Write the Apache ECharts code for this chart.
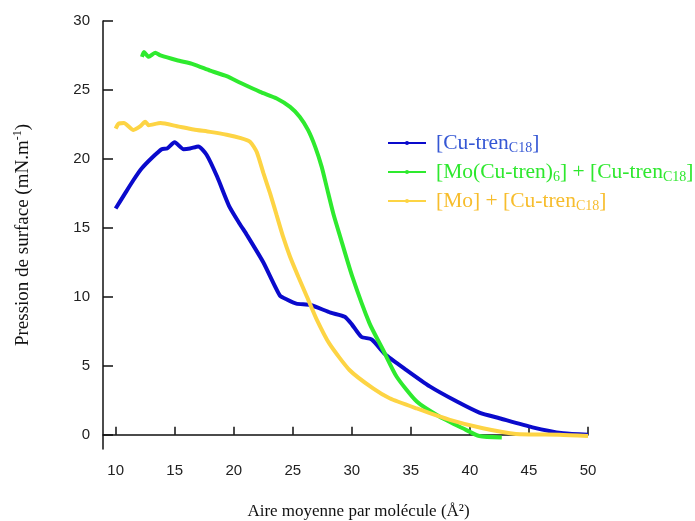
<!DOCTYPE html>
<html>
<head>
<meta charset="utf-8">
<script src="https://cdn.jsdelivr.net/npm/echarts@6/dist/echarts.min.js"></script>
<style>
  html, body { margin: 0; padding: 0; background: #fff; }
  #chart { width: 695px; height: 521px; }
</style>
</head>
<body>
<div id="chart"></div>
<script>
// aire moyenne (Å²) / pression (mN/m)
const cuArea = [10.0, 10.8, 11.5, 12.2, 13.1, 13.9, 14.35, 15.0, 15.75, 16.3, 17.0, 17.7, 18.6, 19.6, 20.5, 21.1, 22.5, 23.9, 24.5, 25.3, 26.5, 28.2, 29.4, 30.0, 30.8, 31.7, 32.8, 34.6, 36.6, 38.9, 40.8, 42.5, 45.3, 47.9, 50.0];
const cuPressure = [16.4, 17.5, 18.45, 19.3, 20.1, 20.7, 20.75, 21.2, 20.7, 20.75, 20.9, 20.3, 18.7, 16.6, 15.3, 14.5, 12.5, 10.1, 9.8, 9.5, 9.4, 8.85, 8.55, 8.0, 7.1, 6.9, 5.85, 4.7, 3.5, 2.4, 1.6, 1.19, 0.53, 0.1, 0.0];

const moCuArea = [12.23, 12.4, 12.8, 13.35, 13.8, 15.2, 16.6, 18.0, 19.4, 20.6, 22.23, 23.64, 24.77, 25.6, 26.3, 26.9, 27.45, 27.87, 28.43, 29.0, 30.0, 31.5, 32.65, 33.8, 35.5, 37.45, 39.4, 40.8, 42.7];
const moCuPressure = [27.4, 27.75, 27.4, 27.7, 27.5, 27.15, 26.86, 26.4, 26.0, 25.5, 24.86, 24.38, 23.77, 23.04, 22.08, 20.87, 19.42, 17.97, 16.04, 14.4, 11.57, 8.07, 6.14, 4.2, 2.4, 1.3, 0.46, -0.1, -0.2];

const moArea = [10.0, 10.25, 10.7, 11.5, 12.1, 12.5, 12.8, 13.8, 15.2, 16.6, 18.0, 19.4, 20.6, 21.4, 21.95, 22.5, 23.08, 23.64, 24.2, 24.77, 25.47, 26.2, 27.0, 28.1, 29.8, 31.8, 33.2, 35.5, 38.3, 41.1, 43.9, 47.6, 50.0];
const moPressure = [22.2, 22.55, 22.6, 22.1, 22.37, 22.7, 22.44, 22.6, 22.37, 22.13, 21.96, 21.75, 21.5, 21.23, 20.5, 19.0, 17.5, 15.9, 14.3, 12.9, 11.45, 10.0, 8.4, 6.6, 4.69, 3.35, 2.64, 1.9, 1.07, 0.46, 0.05, 0.0, -0.1];

const xTicks = [10, 15, 20, 25, 30, 35, 40, 45, 50];
const yTicks = [0, 5, 10, 15, 20, 25, 30];

const pairs = (xs, ys) => xs.map((x, i) => [x, ys[i]]);

const legendLabels = {
  cu: '[Cu-tren{sub|C18}]',
  mocu: '[Mo(Cu-tren){sub|6}] + [Cu-tren{sub|C18}]',
  mo: '[Mo] + [Cu-tren{sub|C18}]'
};

const chart = echarts.init(document.getElementById('chart'));

chart.setOption({
  animation: false,
  grid: { left: 103, right: 107, top: 21, bottom: 72, outerBoundsMode: 'none' },
  legend: {
    orient: 'vertical',
    left: 387,
    top: 131,
    padding: 0,
    itemWidth: 38,
    itemHeight: 5,
    itemGap: 5,
    lineStyle: { width: 2 },
    formatter: name => legendLabels[name],
    textStyle: {
      fontFamily: 'Liberation Serif',
      fontSize: 21.5,
      lineHeight: 24,
      padding: [0, 0, 0, 5],
      rich: {
        sub: { fontSize: 14, lineHeight: 8, verticalAlign: 'bottom', fontFamily: 'Liberation Serif' }
      }
    },
    data: [
      { name: 'cu', textStyle: { color: '#3557d4' } },
      { name: 'mocu', textStyle: { color: '#2ee82e' } },
      { name: 'mo', textStyle: { color: '#f7bd2c' } }
    ]
  },
  xAxis: {
    type: 'value',
    min: 8.93,
    max: 50,
    name: 'Aire moyenne par molécule (Å²)',
    nameLocation: 'middle',
    nameGap: 54,
    nameTextStyle: { fontFamily: 'Liberation Serif', fontSize: 17, color: '#111', padding: [0, 0, 0, 26] },
    axisLine: { lineStyle: { color: '#111', width: 1.5 } },
    axisTick: { inside: true, length: 8, customValues: xTicks, lineStyle: { color: '#111', width: 1.5 } },
    axisLabel: { customValues: xTicks, margin: 14, fontFamily: 'Liberation Sans', fontSize: 15, color: '#222' },
    splitLine: { show: false }
  },
  yAxis: {
    type: 'value',
    min: -1.04,
    max: 30,
    name: 'Pression de surface (mN.m{sup|-1})',
    nameLocation: 'middle',
    nameGap: 69,
    nameRotate: 90,
    nameTextStyle: {
      fontFamily: 'Liberation Serif', fontSize: 19, color: '#111', lineHeight: 22,
      rich: { sup: { fontSize: 12, lineHeight: 10, verticalAlign: 'top', fontFamily: 'Liberation Serif', color: '#111' } }
    },
    axisLine: { show: true, lineStyle: { color: '#111', width: 1.5 } },
    axisTick: { show: true, inside: true, length: 10, customValues: yTicks, lineStyle: { color: '#111', width: 1.5 } },
    axisLabel: { customValues: yTicks, margin: 13, fontFamily: 'Liberation Sans', fontSize: 15, color: '#222' },
    splitLine: { show: false }
  },
  series: [
    {
      name: 'cu', type: 'line', data: pairs(cuArea, cuPressure),
      symbol: 'circle', showSymbol: false, smooth: 0.2,
      lineStyle: { color: '#0a0acc', width: 4 }, itemStyle: { color: '#0a0acc' }
    },
    {
      name: 'mocu', type: 'line', data: pairs(moCuArea, moCuPressure),
      symbol: 'circle', showSymbol: false, smooth: 0.2,
      lineStyle: { color: '#2eea2e', width: 4 }, itemStyle: { color: '#2eea2e' }
    },
    {
      name: 'mo', type: 'line', data: pairs(moArea, moPressure),
      symbol: 'circle', showSymbol: false, smooth: 0.2,
      lineStyle: { color: '#fdd444', width: 4 }, itemStyle: { color: '#fdd444' }
    }
  ]
});
</script>
</body>
</html>
